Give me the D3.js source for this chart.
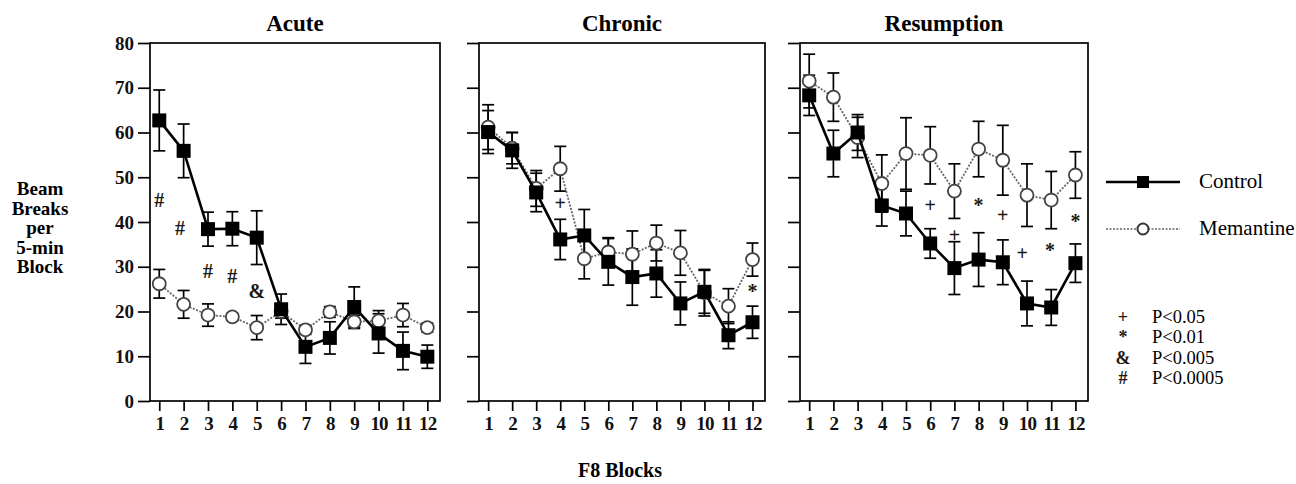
<!DOCTYPE html>
<html>
<head>
<meta charset="utf-8">
<script src="https://cdnjs.cloudflare.com/ajax/libs/d3/7.8.5/d3.min.js"></script>
<style>
  body { margin: 0; background: #fff; }
  svg { display: block; }
  text { font-family: "Liberation Serif", "Times New Roman", serif; }
</style>
</head>
<body>
<svg id="chart"></svg>
<script>
// chart data
let blocks = [1, 2, 3, 4, 5, 6, 7, 8, 9, 10, 11, 12];
let yTicks = [0, 10, 20, 30, 40, 50, 60, 70, 80];
let panelTitles = ['Acute', 'Chronic', 'Resumption'];

let acuteControl = [62.7, 55.9, 38.4, 38.5, 36.5, 20.5, 12.1, 14.1, 21.0, 15.1, 11.2, 9.9];
let acuteControlSem = [6.8, 6.0, 3.8, 3.8, 6.0, 3.4, 3.7, 3.6, 4.5, 4.4, 4.2, 2.6];
let acuteMemantine = [26.2, 21.6, 19.2, 18.8, 16.4, 20.0, 15.9, 19.9, 17.7, 17.9, 19.2, 16.4];
let acuteMemantineSem = [3.2, 3.1, 2.5, 0.8, 2.7, 1.5, 1.0, 1.2, 1.5, 2.3, 2.6, 1.0];

let chronicControl = [60.1, 56.0, 46.6, 36.1, 37.0, 31.1, 27.7, 28.5, 21.8, 24.4, 14.7, 17.6];
let chronicControlSem = [4.8, 4.0, 4.3, 4.5, 5.8, 5.2, 6.3, 5.3, 4.8, 4.8, 3.0, 3.6];
let chronicMemantine = [61.2, 56.5, 47.5, 51.9, 31.8, 33.3, 32.8, 35.3, 33.1, 24.2, 21.2, 31.6];
let chronicMemantineSem = [5.0, 3.5, 4.0, 5.0, 4.5, 3.2, 5.2, 4.0, 5.0, 5.2, 3.9, 3.7];

let resumptionControl = [68.3, 55.3, 60.0, 43.7, 41.9, 35.2, 29.7, 31.6, 31.0, 21.8, 20.9, 30.8];
let resumptionControlSem = [4.5, 5.2, 4.0, 4.6, 5.0, 3.3, 5.9, 6.0, 5.0, 5.0, 4.0, 4.3];
let resumptionMemantine = [71.5, 67.9, 58.9, 48.6, 55.3, 54.9, 46.9, 56.3, 53.8, 46.0, 44.9, 50.5];
let resumptionMemantineSem = [6.0, 5.4, 4.5, 6.4, 8.0, 6.4, 6.1, 6.2, 7.8, 7.0, 6.4, 5.2];

// significance marks: [panel, block, level, symbol]
let sigMarks = [
    [0, 1, 44.9, '#'], [0, 1.85, 38.7, '#'], [0, 3, 29.0, '#'], [0, 4, 28.0, '#'], [0, 5, 24.6, '&'],
    [1, 4, 44.2, '+'], [1, 12, 24.6, '*'],
    [2, 6, 43.9, '+'], [2, 7, 37.2, '+'], [2, 8, 43.8, '*'], [2, 9, 41.5, '+'],
    [2, 9.8, 33.1, '+'], [2, 10.95, 33.8, '*'], [2, 12, 40.2, '*']
];
let sigSymbols = ['+', '*', '&', '#'];
let sigLabels = ['P<0.05', 'P<0.01', 'P<0.005', 'P<0.0005'];

let width = 1296;
let height = 484;

let panels = [
    {left: 150, right: 440, control: acuteControl, controlSem: acuteControlSem, mem: acuteMemantine, memSem: acuteMemantineSem},
    {left: 479, right: 765, control: chronicControl, controlSem: chronicControlSem, mem: chronicMemantine, memSem: chronicMemantineSem},
    {left: 800, right: 1088, control: resumptionControl, controlSem: resumptionControlSem, mem: resumptionMemantine, memSem: resumptionMemantineSem}
];
let plotTop = 43;
let plotBottom = 401;

let svg = d3.select('#chart')
    .attr('width', width)
    .attr('height', height);

let yScale = d3.scaleLinear()
    .domain([0, 80])
    .range([plotBottom, plotTop]);

function drawErrorBars(g, xScale, means, sems) {
    let cap = 6;
    blocks.forEach((b, i) => {
        let x = xScale(b);
        let hi = yScale(means[i] + sems[i]);
        let lo = yScale(means[i] - sems[i]);
        g.append('line')
            .attr('x1', x).attr('x2', x)
            .attr('y1', hi).attr('y2', lo)
            .attr('stroke', '#000').attr('stroke-width', 1.7);
        [hi, lo].forEach((y) => {
            g.append('line')
                .attr('x1', x - cap).attr('x2', x + cap)
                .attr('y1', y).attr('y2', y)
                .attr('stroke', '#000').attr('stroke-width', 1.7);
        });
    });
}

panels.forEach((p, pi) => {
    let xScale = d3.scaleLinear()
        .domain([0.62, 12.52])
        .range([p.left, p.right]);

    let g = svg.append('g');

    // frame
    g.append('rect')
        .attr('x', p.left).attr('y', plotTop)
        .attr('width', p.right - p.left).attr('height', plotBottom - plotTop)
        .attr('fill', 'none').attr('stroke', '#000').attr('stroke-width', 1.7);

    let yAxis = d3.axisLeft(yScale)
        .tickValues(yTicks)
        .tickSize(12)
        .tickPadding(4);
    if (pi > 0) yAxis.tickFormat('');

    let ya = g.append('g')
        .attr('transform', 'translate(' + p.left + ',0)')
        .call(yAxis);
    ya.select('.domain').remove();
    ya.selectAll('line').attr('stroke-width', 1.7);
    ya.selectAll('text')
        .attr('font-size', 19).attr('font-weight', 'bold').attr('fill', '#111');

    let xAxis = d3.axisBottom(xScale)
        .tickValues(blocks)
        .tickSize(10)
        .tickPadding(6)
        .tickFormat(d3.format('d'));
    let xa = g.append('g')
        .attr('transform', 'translate(0,' + plotBottom + ')')
        .call(xAxis);
    xa.select('.domain').remove();
    xa.selectAll('line').attr('stroke-width', 1.7);
    xa.selectAll('text')
        .attr('font-size', 19).attr('font-weight', 'bold').attr('fill', '#111')
        .attr('letter-spacing', -0.8);

    // title
    g.append('text')
        .attr('x', (p.left + p.right) / 2)
        .attr('y', 31)
        .attr('text-anchor', 'middle')
        .attr('font-size', 23).attr('font-weight', 'bold')
        .text(panelTitles[pi]);

    drawErrorBars(g, xScale, p.mem, p.memSem);
    drawErrorBars(g, xScale, p.control, p.controlSem);

    let line = d3.line()
        .x((d, i) => xScale(blocks[i]))
        .y((d) => yScale(d));

    g.append('path')
        .datum(p.mem)
        .attr('d', line)
        .attr('fill', 'none')
        .attr('stroke', '#666')
        .attr('stroke-width', 1.8)
        .attr('stroke-dasharray', '2,1.5');

    g.selectAll('.memDot')
        .data(p.mem)
        .enter()
        .append('circle')
        .attr('class', 'memDot')
        .attr('cx', (d, i) => xScale(blocks[i]))
        .attr('cy', (d) => yScale(d))
        .attr('r', 6.5)
        .attr('fill', '#fff')
        .attr('stroke', '#444')
        .attr('stroke-width', 1.8);

    g.append('path')
        .datum(p.control)
        .attr('d', line)
        .attr('fill', 'none')
        .attr('stroke', '#000')
        .attr('stroke-width', 2.6);

    g.selectAll('.ctrlDot')
        .data(p.control)
        .enter()
        .append('rect')
        .attr('class', 'ctrlDot')
        .attr('x', (d, i) => xScale(blocks[i]) - 7)
        .attr('y', (d) => yScale(d) - 7)
        .attr('width', 14)
        .attr('height', 14)
        .attr('fill', '#000');

    g.selectAll('.sig')
        .data(sigMarks.filter((m) => m[0] === pi))
        .enter()
        .append('text')
        .attr('class', 'sig')
        .attr('x', (m) => xScale(m[1]))
        .attr('y', (m) => yScale(m[2]))
        .attr('dy', '0.35em')
        .attr('text-anchor', 'middle')
        .attr('font-size', 20).attr('font-weight', 'bold')
        .attr('fill', '#1e1a12')
        .text((m) => m[3]);
});

// y label
let yLabelLines = ['Beam', 'Breaks', 'per', '5-min', 'Block'];
svg.append('text')
    .attr('font-size', 19).attr('font-weight', 'bold')
    .attr('text-anchor', 'middle')
    .selectAll('tspan')
    .data(yLabelLines)
    .enter()
    .append('tspan')
    .attr('x', 40)
    .attr('y', (d, i) => 195 + i * 19.5)
    .text((d) => d);

// x label
svg.append('text')
    .attr('x', 620).attr('y', 477)
    .attr('text-anchor', 'middle')
    .attr('font-size', 20).attr('font-weight', 'bold')
    .text('F8 Blocks');

// series legend
let legend = svg.append('g');
legend.append('line')
    .attr('x1', 1106).attr('x2', 1180).attr('y1', 182).attr('y2', 182)
    .attr('stroke', '#000').attr('stroke-width', 2.4);
legend.append('rect')
    .attr('x', 1137).attr('y', 176).attr('width', 12).attr('height', 12)
    .attr('fill', '#000');
legend.append('text')
    .attr('x', 1199).attr('y', 188)
    .attr('font-size', 21)
    .text('Control');

legend.append('line')
    .attr('x1', 1106).attr('x2', 1180).attr('y1', 229).attr('y2', 229)
    .attr('stroke', '#888').attr('stroke-width', 1.8)
    .attr('stroke-dasharray', '2,1.5');
legend.append('circle')
    .attr('cx', 1143).attr('cy', 229).attr('r', 5.5)
    .attr('fill', '#fff').attr('stroke', '#333').attr('stroke-width', 2);
legend.append('text')
    .attr('x', 1199).attr('y', 235)
    .attr('font-size', 21)
    .text('Memantine');

// significance legend
let sigY = [317, 337, 358, 378];
sigSymbols.forEach((s, i) => {
    legend.append('text')
        .attr('x', 1123).attr('y', sigY[i]).attr('dy', '0.35em')
        .attr('text-anchor', 'middle')
        .attr('font-size', 18).attr('font-weight', 'bold')
        .attr('fill', '#1e1a12')
        .text(s);
    legend.append('text')
        .attr('x', 1152).attr('y', sigY[i]).attr('dy', '0.35em')
        .attr('font-size', 18.5)
        .text(sigLabels[i]);
});
</script>
</body>
</html>
